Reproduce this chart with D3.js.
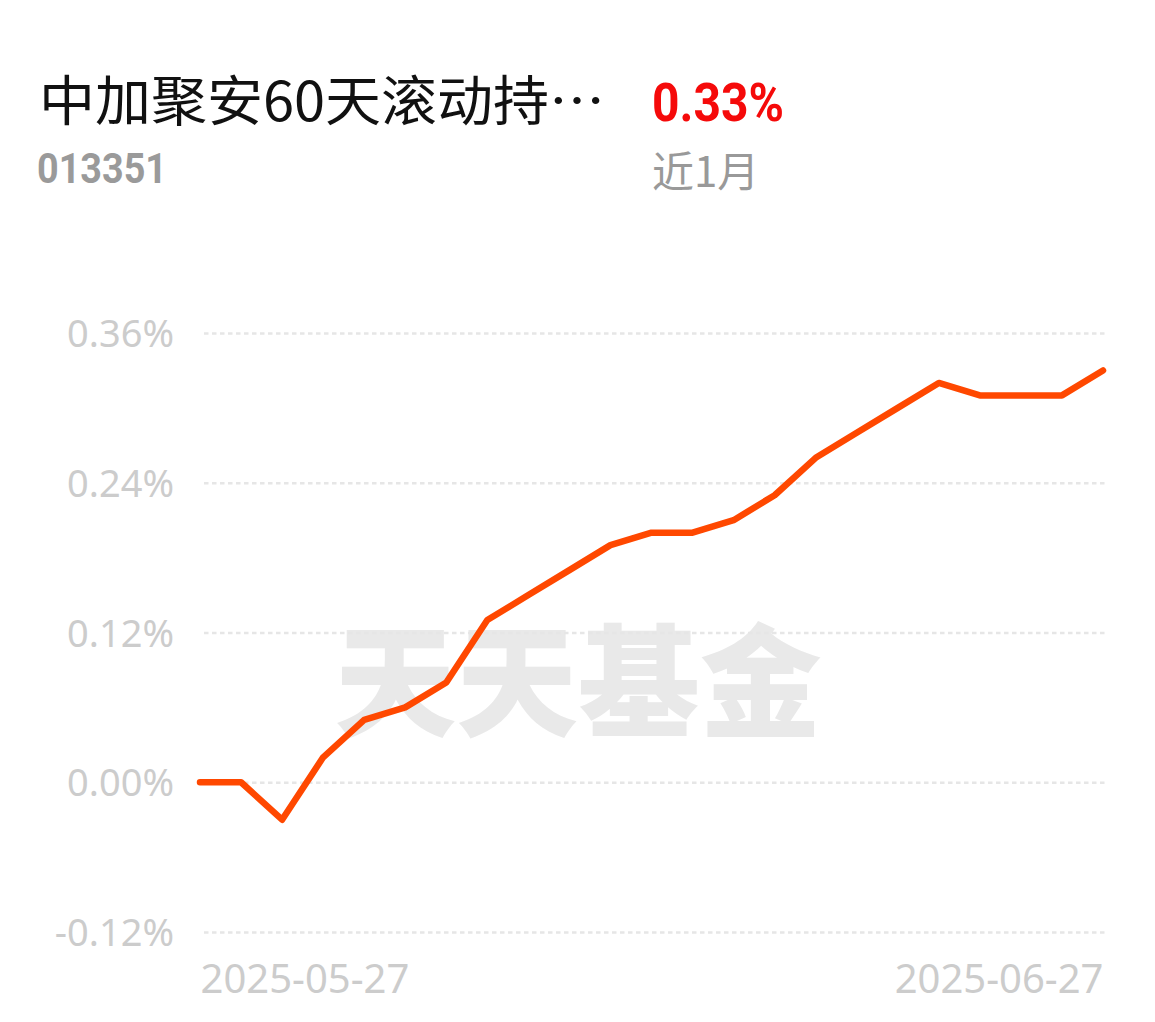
<!DOCTYPE html>
<html><head><meta charset="utf-8">
<script src="https://cdn.jsdelivr.net/npm/d3@7/dist/d3.min.js"></script>
<style>html,body{margin:0;padding:0;background:#fff;}svg{display:block;}</style>
</head><body>
<svg id="c" width="1155" height="1022"></svg>
<script>
const fundName = "中加聚安60天滚动持…";
const fundCode = "013351";
const periodReturn = "0.33%";
const periodLabel = "近1月";
const watermark = "天天基金";
const dates = ["2025-05-27","2025-05-28","2025-05-29","2025-05-30","2025-06-03","2025-06-04","2025-06-05","2025-06-06","2025-06-09","2025-06-10","2025-06-11","2025-06-12","2025-06-13","2025-06-16","2025-06-17","2025-06-18","2025-06-19","2025-06-20","2025-06-23","2025-06-24","2025-06-25","2025-06-26","2025-06-27"];
const returns = [0, 0, -0.03, 0.02, 0.05, 0.06, 0.08, 0.13, 0.15, 0.17, 0.19, 0.20, 0.20, 0.21, 0.23, 0.26, 0.28, 0.30, 0.32, 0.31, 0.31, 0.31, 0.33];
const yTicks = [-0.12, 0, 0.12, 0.24, 0.36];
const xTickLabels = ["2025-05-27", "2025-06-27"];

const svg = d3.select("#c");
const cjk = "'Noto Sans CJK SC','Noto Sans',sans-serif";

// Header
svg.append("text").attr("x", 39).attr("y", 121).attr("font-family", cjk)
  .attr("font-size", 54).attr("fill", "#111")
  .attr("textLength", 566).attr("lengthAdjust", "spacingAndGlyphs").text(fundName);
svg.append("text").attr("x", 37).attr("y", 183).attr("font-family", "Roboto, sans-serif")
  .attr("font-weight", 700).attr("font-size", 43).attr("fill", "#9a9a9a")
  .attr("textLength", 130).attr("lengthAdjust", "spacingAndGlyphs").text(fundCode);
svg.append("text").attr("x", 652).attr("y", 121).attr("font-family", "Roboto, sans-serif")
  .attr("font-weight", 700).attr("font-size", 53).attr("fill", "#f50a0a")
  .attr("textLength", 132).attr("lengthAdjust", "spacingAndGlyphs").text(periodReturn);
svg.append("text").attr("x", 652).attr("y", 187).attr("font-family", cjk)
  .attr("font-size", 42).attr("fill", "#999").text(periodLabel);

// Scales
const x = d3.scalePoint().domain(dates).range([200, 1103]);
const y = d3.scaleLinear().domain([-0.12, 0.36]).range([932, 333]);

// Watermark
svg.append("text").attr("x", 578).attr("y", 727).attr("text-anchor", "middle")
  .attr("font-family", cjk).attr("font-weight", 900).attr("font-size", 122)
  .attr("fill", "#e9e9e9").attr("textLength", 487).attr("lengthAdjust", "spacingAndGlyphs")
  .text(watermark);

// Grid + y axis
const yAxis = d3.axisLeft(y).tickValues(yTicks).tickSize(-907)
  .tickFormat(d => d3.format(".2f")(d).replace("−", "-") + "%");
const gy = svg.append("g").attr("transform", "translate(200,0)").call(yAxis);
gy.select(".domain").remove();
gy.selectAll(".tick line").attr("x1", 4).attr("stroke", "#e6e6e6").attr("stroke-width", 2.5)
  .attr("stroke-dasharray", "4.5,3.5");
gy.selectAll(".tick text").attr("x", -26).attr("dy", "0.36em")
  .attr("font-family", "'Noto Sans',sans-serif").attr("font-size", 38).attr("fill", "#cccccc");

// x labels
const xAxis = d3.axisBottom(x).tickValues(xTickLabels).tickSize(0);
const gx = svg.append("g").attr("transform", "translate(0,954)").call(xAxis);
gx.select(".domain").remove();
gx.selectAll(".tick text").attr("font-family", "'Noto Sans',sans-serif").attr("font-size", 40)
  .attr("fill", "#cccccc").attr("dy", "0.9em")
  .attr("text-anchor", (d, i) => i === 0 ? "start" : "end");

// Line
const line = d3.line().x((d, i) => x(dates[i])).y(d => y(d));
svg.append("path").datum(returns).attr("d", line).attr("fill", "none")
  .attr("stroke", "#ff4800").attr("stroke-width", 6.5).attr("stroke-linejoin", "round")
  .attr("stroke-linecap", "round");
</script>
</body></html>
